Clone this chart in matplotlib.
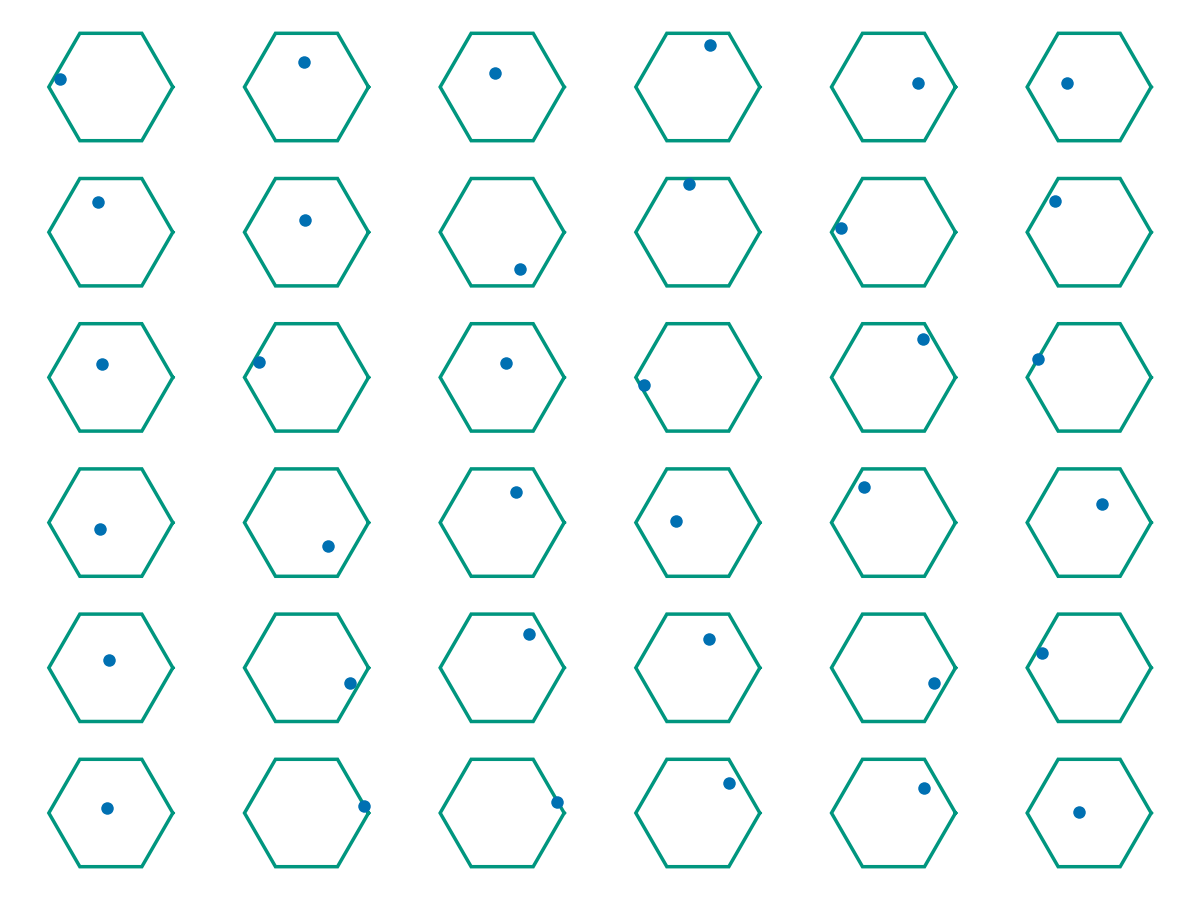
import numpy as np
import matplotlib
matplotlib.use("Agg")
import matplotlib.pyplot as plt

# point position inside each hexagon (hexagon radius = 1), row by row
point_x = [
    [-0.82, -0.04, -0.11, 0.20, 0.39, -0.35],
    [-0.20, -0.02, 0.29, -0.145, -0.85, -0.55],
    [-0.15, -0.77, 0.065, -0.87, 0.475, -0.82],
    [-0.167, 0.35, 0.225, -0.355, -0.48, 0.20],
    [-0.03, 0.70, 0.44, 0.18, 0.65, -0.76],
    [-0.06, 0.92, 0.88, 0.51, 0.49, -0.16],
]
point_y = [
    [0.127, 0.40, 0.22, 0.67, 0.057, 0.062],
    [0.48, 0.19, -0.60, 0.77, 0.07, 0.50],
    [0.22, 0.25, 0.23, -0.12, 0.62, 0.30],
    [-0.10, -0.37, 0.50, 0.02, 0.58, 0.30],
    [0.13, -0.24, 0.55, 0.46, -0.25, 0.24],
    [0.087, 0.12, 0.17, 0.49, 0.41, 0.01],
]

hex_color = "#00967f"
dot_color = "#0070b2"

angles = np.linspace(0, 2 * np.pi, 7)
hex_x = np.cos(angles)
hex_y = np.sin(angles)

nrows, ncols = 6, 6
fig, axes = plt.subplots(nrows, ncols, figsize=(12, 9), dpi=100)
fig.subplots_adjust(left=13 / 1200, right=1187 / 1200,
                    top=1 - 14.4 / 900, bottom=1 - 885.6 / 900,
                    wspace=0, hspace=0)

# half sizes of each cell in data units (62 px per unit)
xr = (1174 / 6) / 2 / 62
yr = (871.2 / 6) / 2 / 62

for r in range(nrows):
    for c in range(ncols):
        ax = axes[r, c]
        ax.plot(hex_x, hex_y, color=hex_color, lw=2.5, solid_joinstyle="miter")
        ax.plot(point_x[r][c], point_y[r][c], "o", color=dot_color,
                ms=9, mew=0, clip_on=False)
        ax.set_xlim(-xr, xr)
        ax.set_ylim(-yr, yr)
        ax.axis("off")

fig.savefig("out.png", dpi=100)
